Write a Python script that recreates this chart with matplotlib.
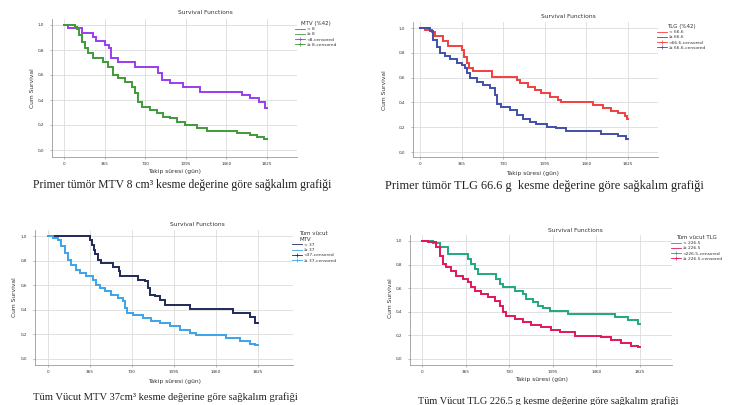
import numpy as np
import matplotlib
matplotlib.use("Agg")
import matplotlib.pyplot as plt
from matplotlib.lines import Line2D

W, H = 731, 405
fig = plt.figure(figsize=(W / 100, H / 100), dpi=100)
fig.patch.set_facecolor("white")

# ---------------- data ----------------
x_ticks = [0, 365, 730, 1095, 1460, 1825]
x_tick_labels = ["0", "365", "730", "1095", "1460", "1825"]
y_ticks = [0.0, 0.2, 0.4, 0.6, 0.8, 1.0]
y_tick_labels = ["0,0", "0,2", "0,4", "0,6", "0,8", "1,0"]
t_end = 1825

# Panel 1: Primer tümör MTV
mtv_lo_t = [0, 39, 159, 264, 288, 369, 408, 420, 489, 639, 849, 879, 954, 1074, 1224, 1599, 1674, 1749, 1809]
mtv_lo_s = [1.0, 0.973, 0.933, 0.907, 0.872, 0.84, 0.813, 0.733, 0.701, 0.667, 0.613, 0.56, 0.533, 0.507, 0.467, 0.44, 0.413, 0.381, 0.333]
mtv_hi_t = [0, 99, 120, 138, 159, 189, 219, 264, 354, 399, 444, 489, 549, 609, 639, 669, 699, 774, 834, 894, 954, 1014, 1089, 1194, 1284, 1554, 1674, 1734, 1794]
mtv_hi_s = [1.0, 0.987, 0.968, 0.92, 0.867, 0.813, 0.773, 0.733, 0.707, 0.667, 0.60, 0.573, 0.547, 0.507, 0.453, 0.387, 0.347, 0.32, 0.293, 0.267, 0.253, 0.227, 0.20, 0.173, 0.152, 0.133, 0.12, 0.107, 0.088]

# Panel 2: Primer tümör TLG
tlg_lo_t = [0, 44, 102, 131, 204, 248, 365, 385, 409, 432, 467, 628, 847, 876, 949, 1007, 1066, 1139, 1212, 1241, 1518, 1606, 1679, 1737, 1796, 1815]
tlg_lo_s = [1.0, 0.986, 0.965, 0.938, 0.892, 0.851, 0.824, 0.77, 0.716, 0.676, 0.657, 0.608, 0.58, 0.554, 0.527, 0.50, 0.473, 0.446, 0.419, 0.405, 0.378, 0.351, 0.332, 0.311, 0.292, 0.27]
tlg_hi_t = [0, 88, 117, 146, 175, 219, 263, 321, 365, 394, 409, 438, 496, 555, 613, 657, 677, 715, 788, 847, 905, 964, 1022, 1110, 1197, 1285, 1591, 1737, 1810]
tlg_hi_s = [1.0, 0.973, 0.905, 0.85, 0.80, 0.776, 0.749, 0.72, 0.70, 0.676, 0.635, 0.595, 0.568, 0.54, 0.514, 0.46, 0.39, 0.36, 0.338, 0.297, 0.27, 0.243, 0.224, 0.203, 0.19, 0.168, 0.149, 0.127, 0.108]

# Panel 3: Tüm vücut MTV
wmtv_lo_t = [0, 368, 385, 397, 408, 435, 463, 565, 614, 629, 782, 840, 869, 889, 927, 970, 1014, 1231, 1608, 1752, 1796]
wmtv_lo_s = [1.0, 0.97, 0.93, 0.89, 0.85, 0.808, 0.78, 0.745, 0.713, 0.672, 0.645, 0.631, 0.577, 0.523, 0.51, 0.482, 0.442, 0.409, 0.374, 0.339, 0.293]
wmtv_hi_t = [0, 43, 87, 116, 145, 174, 203, 246, 275, 333, 391, 420, 449, 492, 550, 608, 652, 666, 687, 739, 826, 898, 970, 1057, 1144, 1231, 1289, 1550, 1666, 1752, 1800]
wmtv_hi_s = [1.0, 0.984, 0.97, 0.916, 0.862, 0.808, 0.767, 0.726, 0.70, 0.672, 0.645, 0.604, 0.577, 0.55, 0.523, 0.496, 0.469, 0.415, 0.374, 0.355, 0.333, 0.312, 0.293, 0.266, 0.238, 0.211, 0.198, 0.171, 0.144, 0.122, 0.111]

# Panel 4: Tüm vücut TLG
wtlg_lo_t = [0, 92, 148, 218, 385, 413, 441, 469, 622, 650, 678, 776, 845, 873, 929, 971, 1013, 1069, 1222, 1613, 1724, 1808]
wtlg_lo_s = [1.0, 0.98, 0.945, 0.89, 0.847, 0.805, 0.763, 0.72, 0.678, 0.636, 0.607, 0.58, 0.55, 0.508, 0.48, 0.452, 0.432, 0.41, 0.381, 0.353, 0.33, 0.297]
wtlg_hi_t = [0, 50, 120, 148, 176, 204, 246, 287, 343, 385, 413, 441, 497, 552, 608, 650, 678, 706, 776, 845, 915, 999, 1083, 1153, 1278, 1501, 1585, 1669, 1752, 1810]
wtlg_hi_s = [1.0, 0.99, 0.946, 0.876, 0.805, 0.777, 0.749, 0.706, 0.678, 0.65, 0.607, 0.579, 0.551, 0.523, 0.494, 0.452, 0.395, 0.367, 0.339, 0.31, 0.291, 0.268, 0.246, 0.226, 0.198, 0.184, 0.161, 0.133, 0.113, 0.10]

legend_titles = ["MTV (%42)", "TLG (%42)", "Tüm vücut\nMTV", "Tüm vücut TLG"]
cutoffs = ["8", "66.6", "37", "226.5"]
captions = [
    "Primer tümör MTV 8 cm³ kesme değerine göre sağkalım grafiği",
    "Primer tümör TLG 66.6 g  kesme değerine göre sağkalım grafiği",
    "Tüm Vücut MTV 37cm³ kesme değerine göre sağkalım grafiği",
    "Tüm Vücut TLG 226.5 g kesme değerine göre sağkalım grafiği",
]

# ---------------- layout / style ----------------
panels = [
    dict(lo=(mtv_lo_t, mtv_lo_s), hi=(mtv_hi_t, mtv_hi_s), colors=("#9a3cf0", "#3f9a3a"),
         box=(52, 297, 19, 157), x0=64, x1=267, y1=25, y0=150,
         title=(205, 13), leg=(295, 21), ylab=(32, 88), xlab=(175, 172), cap=(182, 185), capfs=8.4),
    dict(lo=(tlg_lo_t, tlg_lo_s), hi=(tlg_hi_t, tlg_hi_s), colors=("#ef4040", "#4050a8"),
         box=(413, 658, 22, 157), x0=420, x1=628, y1=28, y0=152,
         title=(568, 17), leg=(657, 24), ylab=(385, 90), xlab=(533, 173), cap=(544, 186), capfs=8.8),
    dict(lo=(wmtv_lo_t, wmtv_lo_s), hi=(wmtv_hi_t, wmtv_hi_s), colors=("#1f2a58", "#3ba4ea"),
         box=(35, 293, 230, 365), x0=48, x1=258, y1=236, y0=359,
         title=(197, 225), leg=(292, 231), ylab=(15, 297), xlab=(175, 382), cap=(165, 397), capfs=7.6),
    dict(lo=(wtlg_lo_t, wtlg_lo_s), hi=(wtlg_hi_t, wtlg_hi_s), colors=("#20a880", "#e0185a"),
         box=(410, 672, 235, 365), x0=422, x1=640, y1=241, y0=359,
         title=(575, 230), leg=(671, 235), ylab=(390, 298), xlab=(542, 379), cap=(548, 401), capfs=7.4),
]


def fx(px):
    return px / W


def fy(py):
    return 1 - py / H


for i, p in enumerate(panels):
    L, R, T, B = p["box"]
    ax = fig.add_axes([fx(L), fy(B), (R - L) / W, (B - T) / H])
    ax.set_xlim((L - p["x0"]) / (p["x1"] - p["x0"]) * t_end, (R - p["x0"]) / (p["x1"] - p["x0"]) * t_end)
    ax.set_ylim((p["y0"] - B) / (p["y0"] - p["y1"]), (p["y0"] - T) / (p["y0"] - p["y1"]))
    for spine in ["top", "right"]:
        ax.spines[spine].set_visible(False)
    for spine in ["left", "bottom"]:
        ax.spines[spine].set_color("#9a9a9a")
        ax.spines[spine].set_linewidth(0.6)
    ax.set_xticks(x_ticks)
    ax.set_xticklabels(x_tick_labels)
    ax.set_yticks(y_ticks)
    ax.set_yticklabels(y_tick_labels)
    ax.tick_params(axis="both", labelsize=3.0, length=1.5, width=0.5, color="#9a9a9a", labelcolor="#333333")
    ax.tick_params(axis="y", pad=4)
    ax.tick_params(axis="x", pad=2)
    ax.grid(True, color="#dcdcdc", linewidth=0.6)
    ax.set_axisbelow(True)

    for (t, s), c in zip([p["lo"], p["hi"]], p["colors"]):
        ax.step(np.append(t, t_end), np.append(s, s[-1]), where="post", color=c, lw=1.4, solid_joinstyle="miter")

    fig.text(fx(p["title"][0]), fy(p["title"][1]), "Survival Functions", fontsize=4.3,
             ha="center", va="center", color="#333333")
    fig.text(fx(p["ylab"][0]), fy(p["ylab"][1]), "Cum Survival", fontsize=4.3, rotation=90,
             ha="center", va="center", color="#333333")
    fig.text(fx(p["xlab"][0]), fy(p["xlab"][1]), "Takip süresi (gün)", fontsize=4.3,
             ha="center", va="center", color="#333333")
    fig.text(fx(p["cap"][0]), fy(p["cap"][1]), captions[i], fontsize=p["capfs"], family="Liberation Serif",
             ha="center", va="center", color="#222222")

    cut = cutoffs[i]
    c1, c2 = p["colors"]
    handles = [
        Line2D([], [], color=c1, lw=0.6),
        Line2D([], [], color=c2, lw=0.6),
        Line2D([], [], color=c1, lw=0.6, marker="+", markersize=2.5, markeredgewidth=0.5),
        Line2D([], [], color=c2, lw=0.6, marker="+", markersize=2.5, markeredgewidth=0.5),
    ]
    labels = ["< " + cut, "≥ " + cut, "<" + cut + "-censored", "≥ " + cut + "-censored"]
    leg = ax.legend(handles, labels, title=legend_titles[i], loc="upper left",
                    bbox_to_anchor=(fx(p["leg"][0]), fy(p["leg"][1])), bbox_transform=fig.transFigure,
                    fontsize=3.2, title_fontsize=4.0, frameon=False, handlelength=2.2,
                    handletextpad=0.4, labelspacing=0.25, borderpad=0, borderaxespad=0)
    leg._legend_box.align = "center"
    leg.get_title().set_color("#333333")
    for txt in leg.get_texts():
        txt.set_color("#333333")

fig.savefig("out.png", dpi=100, facecolor="white")
